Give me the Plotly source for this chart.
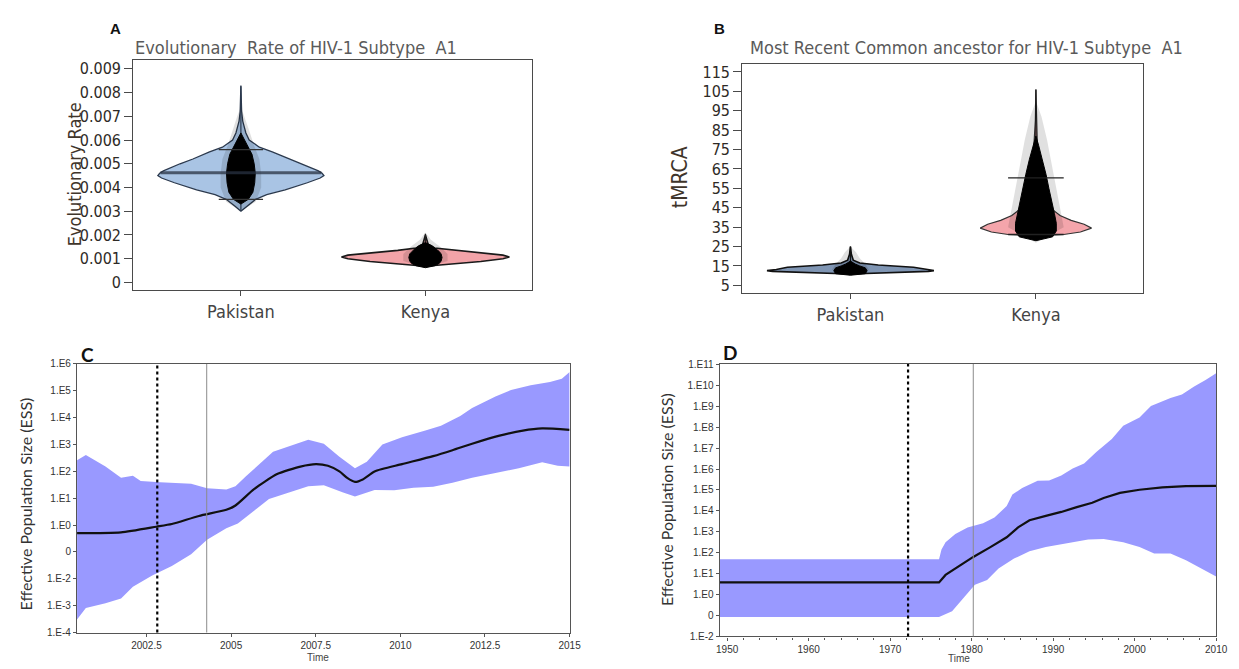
import numpy as np
import plotly.graph_objects as go

W, H = 1239, 669

# ------------------------------------------------------------------ data
categories = ["Pakistan", "Kenya"]

# Panel A – evolutionary rate (violin outline: value levels and half widths in category units)
a_title = "Evolutionary  Rate of HIV-1 Subtype  A1"
a_ylabel = "Evolutionary Rate"
a_yticks = [0, 0.001, 0.002, 0.003, 0.004, 0.005, 0.006, 0.007, 0.008, 0.009]
a_yticktext = ["0", "0.001", "0.002", "0.003", "0.004", "0.005", "0.006", "0.007", "0.008", "0.009"]

a_pak_rate = [0.0030, 0.0032, 0.0035, 0.0037, 0.0039, 0.0042, 0.0044, 0.0045, 0.0046, 0.0047,
              0.0050, 0.0052, 0.0055, 0.0057, 0.0060, 0.0063, 0.0068, 0.0072, 0.0083]
a_pak_width = [0, 0.03, 0.08, 0.14, 0.24, 0.36, 0.43, 0.45, 0.44, 0.42,
               0.33, 0.26, 0.17, 0.10, 0.045, 0.027, 0.010, 0.004, 0]
a_pak_cloud_rate = [0.0033, 0.0035, 0.0038, 0.0042, 0.0046, 0.0050, 0.0054, 0.0057, 0.0060, 0.0063]
a_pak_cloud_width = [0, 0.04, 0.065, 0.075, 0.078, 0.072, 0.06, 0.04, 0.02, 0]
a_pak_haze_rate = [0.0030, 0.0034, 0.0040, 0.0046, 0.0052, 0.0058, 0.0064, 0.0070, 0.0074]
a_pak_haze_width = [0, 0.08, 0.11, 0.11, 0.10, 0.07, 0.045, 0.02, 0]
a_pak_median = 0.00462
a_pak_hpd = [0.0035, 0.0056]
a_pak_range = [0.0030, 0.00827]

a_ken_rate = [0.00068, 0.00078, 0.00088, 0.00100, 0.00107, 0.00115, 0.00125, 0.00135, 0.00145, 0.0016, 0.0020]
a_ken_width = [0, 0.15, 0.30, 0.42, 0.455, 0.42, 0.30, 0.15, 0.05, 0.015, 0]
a_ken_cloud_rate = [0.00062, 0.0007, 0.0008, 0.0009, 0.00105, 0.0012, 0.0013, 0.0014, 0.00155, 0.00168]
a_ken_cloud_width = [0, 0.05, 0.075, 0.085, 0.09, 0.085, 0.075, 0.06, 0.035, 0]
a_ken_haze_rate = [0.0006, 0.0009, 0.0012, 0.0015, 0.0018, 0.0021]
a_ken_haze_width = [0, 0.12, 0.12, 0.08, 0.03, 0]
a_ken_range = [0.0007, 0.00205]

# Panel B – tMRCA
b_title = "Most Recent Common ancestor for HIV-1 Subtype  A1"
b_ylabel = "tMRCA"
b_yticks = [5, 15, 25, 35, 45, 55, 65, 75, 85, 95, 105, 115]

b_pak_tmrca = [10.8, 11.5, 12.2, 12.6, 13.2, 14.3, 15.5, 16.5, 18, 21, 25]
b_pak_width = [0, 0.23, 0.42, 0.45, 0.40, 0.34, 0.15, 0.05, 0.015, 0.005, 0]
b_pak_cloud_tmrca = [10.2, 11, 12.5, 14, 15, 16, 17.5]
b_pak_cloud_width = [0, 0.08, 0.09, 0.08, 0.05, 0.025, 0]
b_pak_haze_tmrca = [10, 13, 16, 19, 22, 25]
b_pak_haze_width = [0, 0.10, 0.08, 0.05, 0.03, 0]
b_pak_range = [11, 25]

b_ken_tmrca = [30.5, 31.2, 32.5, 34.5, 36.5, 38.5, 41, 44, 48, 52, 58, 65, 72, 80, 90, 106]
b_ken_width = [0, 0.15, 0.24, 0.30, 0.26, 0.19, 0.13, 0.09, 0.06, 0.045, 0.033, 0.022, 0.014, 0.007, 0.003, 0]
b_ken_cloud_tmrca = [28, 30, 33, 37, 42, 48, 55, 62, 70, 77, 82]
b_ken_cloud_width = [0, 0.09, 0.11, 0.11, 0.10, 0.085, 0.07, 0.055, 0.035, 0.015, 0]
b_ken_haze_tmrca = [27, 35, 50, 65, 80, 92, 100]
b_ken_haze_width = [0, 0.15, 0.12, 0.09, 0.06, 0.03, 0]
b_ken_hpd = [31.2, 60.4]
b_ken_range = [30.5, 106]

# Panel C – skyline, Pakistan (log10 of effective population size)
c_ylabel = "Effective Population Size (ESS)"
c_xticks = [2002.5, 2005, 2007.5, 2010, 2012.5, 2015]
c_ytick_exp = [6, 5, 4, 3, 2, 1, 0, -1, -2, -3, -4]
c_yticktext = ["1.E6", "1.E5", "1.E4", "1.E3", "1.E2", "1.E1", "1.E0", "0", "1.E-2", "1.E-3", "1.E-4"]
c_vlines = [2002.82, 2004.28]

c_mean_year = [2000.45, 2001.75, 2002.79, 2003.25, 2004.05, 2004.86, 2005.13, 2005.67, 2006.36, 2007.05,
               2007.51, 2007.86, 2008.2, 2008.43, 2008.66, 2008.89, 2009.24, 2010.05, 2010.97, 2011.54,
               2012.12, 2012.93, 2013.62, 2014.19, 2015.0]
c_mean_log = [-0.30, -0.27, -0.06, 0.04, 0.34, 0.57, 0.73, 1.33, 1.90, 2.18,
              2.27, 2.21, 2.0, 1.76, 1.61, 1.70, 2.0, 2.27, 2.57, 2.79,
              3.03, 3.33, 3.52, 3.60, 3.55]
c_upper_year = [2000.45, 2000.71, 2001.29, 2001.75, 2002.1, 2002.33, 2002.9, 2003.82, 2004.29, 2004.86,
                2005.13, 2005.44, 2006.24, 2006.82, 2007.28, 2007.74, 2008.2, 2008.66, 2009.01, 2009.47,
                2010.05, 2010.74, 2011.2, 2011.77, 2012.12, 2012.81, 2013.27, 2013.85, 2014.42, 2014.77, 2015.0]
c_upper_log = [2.42, 2.61, 2.18, 1.76, 1.84, 1.64, 1.60, 1.54, 1.37, 1.33,
               1.45, 1.82, 2.73, 2.97, 3.18, 3.03, 2.55, 2.12, 2.36, 3.0,
               3.27, 3.52, 3.70, 4.06, 4.36, 4.79, 5.03, 5.21, 5.33, 5.45, 5.70]
c_lower_year = [2000.45, 2000.71, 2001.29, 2001.75, 2002.1, 2002.67, 2003.25, 2003.82, 2004.29, 2004.86,
                2005.2, 2006.12, 2006.59, 2007.28, 2007.74, 2008.31, 2008.66, 2009.24, 2009.82, 2010.39,
                2010.97, 2011.54, 2012.12, 2012.81, 2013.5, 2014.19, 2014.65, 2015.0]
c_lower_log = [-3.52, -3.09, -2.91, -2.73, -2.30, -1.88, -1.52, -1.09, -0.55, -0.12,
               0.06, 0.97, 1.15, 1.45, 1.48, 1.21, 1.07, 1.31, 1.30, 1.39,
               1.43, 1.58, 1.76, 1.94, 2.12, 2.34, 2.21, 2.18]

# Panel D – skyline, Kenya
d_xticks = [1950, 1960, 1970, 1980, 1990, 2000, 2010]
d_ytick_exp = [11, 10, 9, 8, 7, 6, 5, 4, 3, 2, 1, 0, -1, -2]
d_yticktext = ["1.E11", "1.E10", "1.E9", "1.E8", "1.E7", "1.E6", "1.E5", "1.E4", "1.E3", "1.E2",
               "1.E1", "1.E0", "0", "1.E-2"]
d_vlines = [1972.2, 1980.2]

d_mean_year = [1949.08, 1976.0, 1976.8, 1978.5, 1980.2, 1982.3, 1984.3, 1985.7, 1987.1, 1989.1,
               1991.0, 1992.9, 1994.8, 1996.2, 1998.2, 2000.6, 2003.4, 2006.3, 2010.0]
d_mean_log = [0.58, 0.58, 0.94, 1.38, 1.80, 2.27, 2.74, 3.21, 3.55, 3.76,
              3.95, 4.18, 4.39, 4.62, 4.86, 5.01, 5.12, 5.18, 5.20]
d_upper_year = [1949.08, 1976.0, 1976.3, 1976.8, 1978.0, 1979.5, 1981.4, 1982.8, 1984.3, 1985.0,
                1986.2, 1988.1, 1989.5, 1991.0, 1992.4, 1993.8, 1995.3, 1997.2, 1998.6, 2000.6,
                2002.0, 2004.4, 2005.8, 2007.3, 2008.7, 2010.0]
d_upper_log = [1.69, 1.69, 2.15, 2.5, 2.9, 3.21, 3.41, 3.68, 4.23, 4.78,
               5.09, 5.44, 5.45, 5.69, 6.03, 6.27, 6.82, 7.44, 8.07, 8.46,
               9.01, 9.40, 9.56, 9.95, 10.26, 10.58]
d_lower_year = [1949.08, 1976.0, 1977.6, 1979.0, 1980.4, 1981.9, 1983.3, 1985.2, 1987.1, 1989.1,
                1990.5, 1992.4, 1994.3, 1996.2, 1998.6, 2000.6, 2002.4, 2004.4, 2006.3, 2008.2, 2010.0]
d_lower_log = [-1.07, -1.07, -0.79, -0.16, 0.47, 0.70, 1.25, 1.72, 2.07, 2.27,
               2.38, 2.50, 2.63, 2.66, 2.50, 2.27, 1.96, 1.96, 1.64, 1.25, 0.86]

# ------------------------------------------------------------------ styles
NARROW = "DejaVu Sans Condensed, Liberation Sans Narrow, Arial Narrow, sans-serif"
SANS = "Liberation Sans, Arial, sans-serif"
HUMAN = "Lato, Open Sans, sans-serif"
BAND = "rgb(153,153,255)"
HAZE = "rgba(0,0,0,0.12)"


def px(x):
    return x / W


def py(y):
    return 1 - y / H


fig = go.Figure()


def violin(center, vals, hw, fill, line_color, line_w, xa, ya):
    vals = list(vals)
    hw = list(hw)
    xs = [center + w for w in hw] + [center - w for w in hw[::-1]]
    ys = vals + vals[::-1]
    fig.add_trace(go.Scatter(x=xs, y=ys, fill="toself", fillcolor=fill, mode="lines",
                             line=dict(color=line_color, width=line_w),
                             xaxis=xa, yaxis=ya, showlegend=False, hoverinfo="skip"))


def seg(xs, ys, color, width, xa, ya, dash=None):
    fig.add_trace(go.Scatter(x=xs, y=ys, mode="lines",
                             line=dict(color=color, width=width, dash=dash),
                             xaxis=xa, yaxis=ya, showlegend=False, hoverinfo="skip"))


# ---- Panel A
violin(0, a_pak_rate, a_pak_width, "#a9c4e4", "#2c3a4e", 1.3, "x", "y")
violin(0, a_pak_haze_rate, a_pak_haze_width, HAZE, "rgba(0,0,0,0)", 0, "x", "y")
seg([0, 0], a_pak_range, "#2c3a4e", 1.2, "x", "y")
violin(0, a_pak_cloud_rate, a_pak_cloud_width, "#000000", "#000000", 1, "x", "y")
mw = float(np.interp(a_pak_median, a_pak_rate, a_pak_width))
seg([-mw, mw], [a_pak_median, a_pak_median], "rgba(40,50,65,0.75)", 3, "x", "y")
for v in a_pak_hpd:
    seg([-0.12, 0.12], [v, v], "#333333", 1.2, "x", "y")

violin(1, a_ken_rate, a_ken_width, "#f2a3a8", "#1a1a1a", 1.6, "x", "y")
violin(1, a_ken_haze_rate, a_ken_haze_width, HAZE, "rgba(0,0,0,0)", 0, "x", "y")
seg([1, 1], a_ken_range, "#222222", 1.2, "x", "y")
violin(1, a_ken_cloud_rate, a_ken_cloud_width, "#000000", "#000000", 1, "x", "y")

# ---- Panel B
violin(0, b_pak_tmrca, b_pak_width, "#7f95b3", "#111111", 1.6, "x2", "y2")
violin(0, b_pak_haze_tmrca, b_pak_haze_width, HAZE, "rgba(0,0,0,0)", 0, "x2", "y2")
seg([0, 0], b_pak_range, "#111111", 1.2, "x2", "y2")
violin(0, b_pak_cloud_tmrca, b_pak_cloud_width, "#000000", "#000000", 1, "x2", "y2")

violin(1, b_ken_tmrca, b_ken_width, "#f4a5ab", "#333333", 1.2, "x2", "y2")
violin(1, b_ken_haze_tmrca, b_ken_haze_width, HAZE, "rgba(0,0,0,0)", 0, "x2", "y2")
seg([1, 1], b_ken_range, "#111111", 1.2, "x2", "y2")
violin(1, b_ken_cloud_tmrca, b_ken_cloud_width, "#000000", "#000000", 1, "x2", "y2")
for v in b_ken_hpd:
    seg([0.85, 1.15], [v, v], "#222222", 1.3, "x2", "y2")

# ---- Panel C
c_band_x = list(c_upper_year) + list(c_lower_year)[::-1]
c_band_y = [10 ** v for v in c_upper_log] + [10 ** v for v in c_lower_log][::-1]
fig.add_trace(go.Scatter(x=c_band_x, y=c_band_y, fill="toself", fillcolor=BAND, mode="lines",
                         line=dict(width=0, color=BAND), xaxis="x3", yaxis="y3",
                         showlegend=False, hoverinfo="skip"))
fig.add_trace(go.Scatter(x=c_mean_year, y=[10 ** v for v in c_mean_log], mode="lines",
                         line=dict(color="#111111", width=2.2, shape="spline", smoothing=0.6),
                         xaxis="x3", yaxis="y3", showlegend=False, hoverinfo="skip"))

# ---- Panel D
d_band_x = list(d_upper_year) + list(d_lower_year)[::-1]
d_band_y = [10 ** v for v in d_upper_log] + [10 ** v for v in d_lower_log][::-1]
fig.add_trace(go.Scatter(x=d_band_x, y=d_band_y, fill="toself", fillcolor=BAND, mode="lines",
                         line=dict(width=0, color=BAND), xaxis="x4", yaxis="y4",
                         showlegend=False, hoverinfo="skip"))
fig.add_trace(go.Scatter(x=d_mean_year, y=[10 ** v for v in d_mean_log], mode="lines",
                         line=dict(color="#111111", width=2.2),
                         xaxis="x4", yaxis="y4", showlegend=False, hoverinfo="skip"))

# vertical reference lines
shapes = []
for xr, yr, vl in [("x3", "y3 domain", c_vlines), ("x4", "y4 domain", d_vlines)]:
    shapes.append(dict(type="line", xref=xr, yref=yr, x0=vl[0], x1=vl[0], y0=0, y1=1,
                       line=dict(color="#000000", width=2.2, dash="dot")))
    shapes.append(dict(type="line", xref=xr, yref=yr, x0=vl[1], x1=vl[1], y0=0, y1=1,
                       line=dict(color="#8c8c8c", width=1)))

# ------------------------------------------------------------------ axes
common_ab = dict(showline=True, mirror=True, linecolor="#4a4a4a", linewidth=1.3,
                 showgrid=False, zeroline=False, ticks="outside", tickcolor="#4a4a4a", tickwidth=1.3)

xa_ab = dict(range=[-0.583, 1.578], tickvals=[0, 1], ticktext=categories, ticklen=5,
             tickfont=dict(family=NARROW, size=18, color="#444444"), **common_ab)

small = dict(family=SANS, size=10, color="#333333")
common_cd = dict(showline=True, mirror=True, linecolor="#555555", linewidth=1.2,
                 showgrid=False, zeroline=False, ticks="outside", tickcolor="#555555",
                 tickwidth=1, ticklen=3, tickfont=small)

ytickfont_ab = dict(family=NARROW, size=16, color="#2e2a26")

fig.update_layout(
    width=W, height=H, margin=dict(l=0, r=0, t=0, b=0),
    paper_bgcolor="white", plot_bgcolor="white", showlegend=False,
    xaxis=dict(domain=[px(131), px(535)], anchor="y", **xa_ab),
    yaxis=dict(domain=[py(290), py(56)], anchor="x", range=[-0.00033, 0.00937],
               tickvals=a_yticks, ticktext=a_yticktext, ticklen=8,
               tickfont=ytickfont_ab, **common_ab),
    xaxis2=dict(domain=[px(748), px(1154)], anchor="y2", **xa_ab),
    yaxis2=dict(domain=[py(293), py(60)], anchor="x2", range=[0.95, 119.1],
                tickvals=b_yticks, ticklen=8, tickfont=ytickfont_ab, **common_ab),
    xaxis3=dict(domain=[px(74), px(573)], anchor="y3", range=[2000.45, 2015],
                tickvals=c_xticks, ticktext=[str(v) for v in c_xticks], **common_cd),
    yaxis3=dict(domain=[py(638), py(365)], anchor="x3", type="log", range=[-4, 6],
                tickvals=[10.0 ** e for e in c_ytick_exp], ticktext=c_yticktext, **common_cd),
    xaxis4=dict(domain=[px(725), px(1228)], anchor="y4", range=[1949.08, 2010],
                tickvals=d_xticks, ticktext=[str(v) for v in d_xticks],
                minor=dict(dtick=2, ticks="outside", ticklen=2, tickcolor="#555555"), **common_cd),
    yaxis4=dict(domain=[py(642), py(365)], anchor="x4", type="log", range=[-2, 11.02],
                tickvals=[10.0 ** e for e in d_ytick_exp], ticktext=d_yticktext, **common_cd),
    shapes=shapes,
)

ann = []


def text(x, y, s, font, angle=0, xanchor="center", yanchor="middle"):
    ann.append(dict(x=px(x), y=py(y), xref="paper", yref="paper", text=s, showarrow=False,
                    font=font, textangle=angle, xanchor=xanchor, yanchor=yanchor))


text(113, 24, "<b>A</b>", dict(family=SANS, size=15, color="#111"))
text(725, 24, "<b>B</b>", dict(family=SANS, size=15, color="#111"))
text(85, 355, "<b>C</b>", dict(family=HUMAN, size=19, color="#111"))
text(735, 353, "<b>D</b>", dict(family=HUMAN, size=19, color="#111"))
text(296, 43, a_title, dict(family=NARROW, size=18, color="#5a5a5a"))
text(975, 43, b_title, dict(family=NARROW, size=18, color="#5a5a5a"))
text(71, 172, a_ylabel, dict(family=NARROW, size=18, color="#3f352b"), angle=-90)
text(685, 175, b_ylabel, dict(family=NARROW, size=21, color="#3f352b"), angle=-90)
text(22, 507, c_ylabel, dict(family=HUMAN, size=16, color="#333"), angle=-90)
text(671, 503, c_ylabel, dict(family=HUMAN, size=16, color="#333"), angle=-90)
text(318, 663, "Time", dict(family=SANS, size=10, color="#444"))
text(967, 664, "Time", dict(family=SANS, size=10, color="#444"))
fig.update_layout(annotations=ann)

fig.write_html("out.html", config={"displayModeBar": False},
               post_script="document.body.style.margin='0px';document.body.style.overflow='hidden';")
